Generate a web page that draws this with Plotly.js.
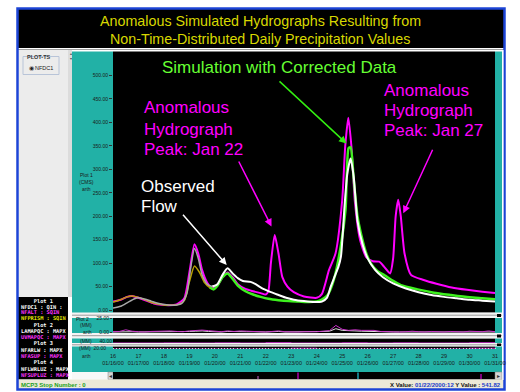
<!DOCTYPE html>
<html><head><meta charset="utf-8">
<script src="https://cdn.plot.ly/plotly-3.0.1.min.js"></script>
<style>html,body{margin:0;padding:0;background:#fff;overflow:hidden}#chart{width:520px;height:392px}</style>
</head><body><div id="chart"></div>
<script>
// ---------------- DATA ----------------
// Plot 1 : streamflow (CMS), x = day of January 2000
const obsDays = [16.0,16.3,16.6,16.85,17.0,17.2,17.5,17.8,18.1,18.4,18.7,18.9,19.05,19.2,19.35,19.5,19.7,19.9,20.1,20.3,20.5,20.7,20.9,21.1,21.4,21.6,21.9,22.2,22.5,22.8,23.1,23.5,23.9,24.2,24.4,24.55,24.7,24.85,24.95,25.1,25.2,25.33,25.45,25.6,25.8,26.0,26.3,26.6,27.0,27.5,28.0,28.5,29.0,29.5,30.0,30.5,31.0];
const obsFlow = [4,8,17,24,26,24,19,14,11,10,14,35,90,131,110,75,55,50,55,75,89,78,68,62,60,55,45,38,32,26,22,19,17,18,26,50,71,92,114,228,290,323,285,190,140,110,85,70,57,46,38,32,28,25,22,20,18];

const altDays = [16.0,16.3,16.55,16.75,17.0,17.3,17.6,17.9,18.2,18.5,18.8,19.0,19.2,19.35,19.5,19.7,19.9,20.1,20.3,20.5,20.7,20.9,21.2,21.5,21.8,22.0,22.1,22.2,22.35,22.5,22.65,22.85,23.1,23.5,24.0,24.2,24.48,24.74,25.0,25.12,25.24,25.36,25.5,25.7,25.95,26.2,26.45,26.65,26.88,27.0,27.1,27.2,27.3,27.45,27.7,28.2,28.7,29.3,29.9,30.5,31.0];
const altFlow = [18,22,28,30,26,20,14,11,10,12,25,80,140,120,85,58,46,52,70,80,70,55,45,40,36,33,40,100,160,120,70,50,38,29,26,34,85,121,234,350,410,350,230,150,112,104,103,92,78,110,200,235,200,120,75,64,56,48,43,39,36];

const prismDays = [16.0,16.3,16.55,16.75,17.0,17.3,17.6,17.9,18.2,18.5,18.8,19.0,19.2,19.4,19.6,19.8,19.95];
const prismFlow = [17,22,28,30,27,21,15,12,10,11,20,60,94,80,58,48,45];

const corrDays = [19.8,19.95,20.1,20.3,20.5,20.7,20.9,21.2,21.5,21.8,22.1,22.5,22.9,23.3,23.7,24.0,24.2,24.43,24.67,24.94,25.13,25.25,25.33,25.45,25.6,25.75,25.95,26.12,26.4,26.64,27.0,27.3,27.96,28.6,29.27,30.0,30.5,31.0];
const corrFlow = [48,44,52,70,78,66,52,40,33,28,24,21,19,18,17,18,22,32,64,135,213,345,347,280,200,160,120,100,82,75,62,53,44,37,32,27,25,23];

// Plot 2 : precipitation (MM), 6-hourly from 01/16 00z
const precipAlt = [0.5,1,4,1.5,0.5,0,1,1.5,1,2,1,0.5,2,3,3.5,2.5,1,0.5,2,1,2,1.5,1,0.3,0,1,2,0.5,0,0,0.5,0,0.5,1.5,2.5,12,5,3,4,3,2.5,3,1,0.5,0,0,0.5,1.5,0.5,0,1,0.5,0,1,0.5,0,1.5,0.5,0.5,2,0.5];
const precipLam = [0,0.5,1,0.5,0,0,0.5,0.5,0,1,0.5,0,1,1.5,2,1,0.5,0,1,0.5,1,0.5,0.5,0,0,0.5,1,0,0,0,0,0,0,1,1.5,6,3,2,2,1.5,1,1.5,0.5,0,0,0,0,1,0,0,0.5,0,0,0.5,0,0,1,0,0,1,0];
// Plot 3 and Plot 4 : daily MAP
const mapDays  = [16,17,18,19,20,21,22,23,24,25,26,27,28,29,30,31];
const map3Alt  = [0,0,2,0,3,0,6,0,0,4,0,3,0,0,5,0];
const map4Alt  = [0,0,0,0,0,0,0,0.3,0,0,0,0,0,0,0.3,0];

// x-axis tick labels
const tickDays  = [16,17,18,19,20,21,22,23,24,25,26,27,28,29,30,31];
const tickDates = ['01/16/00','01/17/00','01/18/00','01/19/00','01/20/00','01/21/00','01/22/00','01/23/00','01/24/00','01/25/00','01/26/00','01/27/00','01/28/00','01/29/00','01/30/00','01/31/00'];
const flowTicks = [0,50,100,150,200,250,300,350,400,450,500];

// ---------------- LAYOUT HELPERS ----------------
const W=520,H=392;
const X=p=>p/W, Y=p=>1-p/H;
const TEAL='#22b1a6', MAG='#ff00ff', GRN='#3df01e', YEL='#d8d800';

const precipDays = precipAlt.map((_,i)=>16+i*0.25);
const split = obsDays.findIndex(d=>d>=19.9);

const traces = [
 {x:altDays,y:altFlow,xaxis:'x',yaxis:'y',mode:'lines',line:{color:MAG,width:2,shape:'spline',smoothing:0.6}},
 {x:prismDays,y:prismFlow,xaxis:'x',yaxis:'y',mode:'lines',line:{color:'#b8a000',width:1.5,shape:'spline',smoothing:0.6}},
 {x:obsDays.slice(0,split+1),y:obsFlow.slice(0,split+1),xaxis:'x',yaxis:'y',mode:'lines',line:{color:'#a8a8a8',width:1.5,shape:'spline',smoothing:0.6}},
 {x:corrDays,y:corrFlow,xaxis:'x',yaxis:'y',mode:'lines',line:{color:GRN,width:2.5,shape:'spline',smoothing:0.6}},
 {x:obsDays.slice(split),y:obsFlow.slice(split),xaxis:'x',yaxis:'y',mode:'lines',line:{color:'#ffffff',width:2,shape:'spline',smoothing:0.6}},
 {x:precipDays,y:precipLam,xaxis:'x2',yaxis:'y2',mode:'lines',line:{color:'#dddddd',width:1}},
 {x:precipDays,y:precipAlt,xaxis:'x2',yaxis:'y2',mode:'lines',line:{color:'#cc33cc',width:1}},
 {x:mapDays,y:map3Alt,xaxis:'x3',yaxis:'y3',mode:'lines',line:{color:'#cc33cc',width:1,shape:'hv'}},
 {x:mapDays,y:map4Alt,xaxis:'x4',yaxis:'y4',mode:'lines',line:{color:'#cc33cc',width:1,shape:'hv'}}
];

const xr=[16,31], xd=[X(113),X(495)];
const baseX = {domain:xd,range:xr,showgrid:false,zeroline:false,showticklabels:false,ticks:'',fixedrange:true};
const tinyFont = {family:'Liberation Sans, Arial, sans-serif',size:5,color:'#1a1a1a'};

const layout = {
 width:W,height:H,margin:{l:0,r:0,t:0,b:0},
 paper_bgcolor:'#ffffff',plot_bgcolor:'#000000',showlegend:false,hovermode:false,
 xaxis:Object.assign({},baseX,{anchor:'y'}),
 yaxis:{domain:[Y(312.5),Y(52)],range:[-5.3,550.1],tickvals:flowTicks,tickformat:'.2f',ticks:'outside',ticklen:3,tickcolor:'#333',
        tickfont:tinyFont,showgrid:false,zeroline:false,anchor:'x'},
 xaxis2:Object.assign({},baseX,{anchor:'y2'}),
 yaxis2:{domain:[Y(333),Y(318)],range:[-1.8,25.5],tickvals:[0,25],tickformat:'.2f',ticks:'outside',ticklen:2,tickcolor:'#333',
        tickfont:tinyFont,showgrid:false,zeroline:false,anchor:'x2'},
 xaxis3:Object.assign({},baseX,{anchor:'y3'}),
 yaxis3:{domain:[Y(343),Y(338.5)],range:[0,80],tickvals:[40],tickformat:'.2f',ticks:'',
        tickfont:tinyFont,showgrid:false,zeroline:false,anchor:'x3'},
 xaxis4:Object.assign({},baseX,{anchor:'y4',showticklabels:true,tickvals:tickDays,tickangle:0,
        ticktext:tickDays.map((d,i)=>d+'<br>'+tickDates[i]),tickfont:{family:'Liberation Sans, Arial, sans-serif',size:5.5,color:'#1a1a1a'},
        ticks:'outside',ticklen:1,tickcolor:TEAL,
        minor:{ticks:'inside',dtick:0.125,ticklen:1.5,tickcolor:'#d8d8d8',showgrid:false}}),
 yaxis4:{domain:[Y(349),Y(346.5)],range:[0,1],showticklabels:false,showgrid:false,zeroline:false,anchor:'x4',ticks:''},
 shapes:[],annotations:[]
};

const S=layout.shapes, A=layout.annotations;
function rect(x0,y0,x1,y1,fill,line,layer){S.push({type:'rect',xref:'paper',yref:'paper',x0:X(x0),x1:X(x1),y0:Y(y1),y1:Y(y0),
  fillcolor:fill,line:line||{width:0},layer:layer||'below'});}
function hline(x0,x1,y,c,w){S.push({type:'line',xref:'paper',yref:'paper',x0:X(x0),x1:X(x1),y0:Y(y),y1:Y(y),line:{color:c,width:w||1},layer:'below'});}
function vline(x,y0,y1,c,w,layer){S.push({type:'line',xref:'paper',yref:'paper',x0:X(x),x1:X(x),y0:Y(y0),y1:Y(y1),line:{color:c,width:w||1},layer:layer||'below'});}
function txt(t,x,y,size,color,opt){A.push(Object.assign({text:t,xref:'paper',yref:'paper',x:X(x),y:Y(y),showarrow:false,
  xanchor:'left',yanchor:'middle',font:{family:'Liberation Sans, Arial, sans-serif',size:size,color:color}},opt||{}));}
function arrow(tx,ty,hx,hy,color){A.push({text:'',xref:'paper',yref:'paper',x:X(hx),y:Y(hy),ax:tx-hx,ay:ty-hy,showarrow:true,
  arrowhead:2,arrowsize:1,arrowwidth:1.5,arrowcolor:color,standoff:0});}

// window frame
rect(18,9,504,48,'#000000');
hline(18,504,49.5,'#a0a0a0',1);
// left panel
rect(19,50,68,297,'#ececec');
rect(23,56.5,59,74.5,'rgba(0,0,0,0)',{color:'#b8c4d8',width:1});
rect(68,50,72,297,'#dcdcdc');
// teal areas
rect(72,51.5,113,349,TEAL);
rect(495,51.5,502,349,TEAL);
rect(72,349,502,372,TEAL);
// black plot areas
rect(113,51.5,495,312.5,'#000000');
rect(113,318,495,333,'#000000');
rect(113,338.5,495,343,'#000000');
rect(113,346.5,495,349,'#000000');
// separators
rect(72,312.5,502,318,'#f4f4f4'); hline(72,502,315.2,'#9a9a9a',1);
rect(72,333,502,338.5,'#f4f4f4'); hline(72,502,335.7,'#9a9a9a',1);
rect(72,343,502,346.5,'#f4f4f4'); hline(72,502,344.8,'#9a9a9a',1);
rect(497,314,501,317,'#000'); rect(497,334.5,501,337.5,'#000'); rect(497,343.5,501,346,'#000');
// scrollbar
rect(72,372,108,379.5,'#f8f8f8');
rect(108,372,113,379.5,'#d4d4d4',{color:'#808080',width:0.5});
rect(113,372,495,379.5,'#000000');
rect(495,372,502,379.5,'#d4d4d4',{color:'#808080',width:0.5});
vline(298,372.5,379,MAG,1); vline(358,372.5,379,'#22ccdd',1.2); vline(481,374,379,MAG,1); vline(258,376,379,'#cc66cc',1);
// legend box & status bar
rect(18,297,68,379.5,'#000000');
rect(18,379.5,504,389,'#ece9d8');
// blue frame
rect(17.5,8.5,504.5,389.5,'rgba(0,0,0,0)',{color:'#1c44d6',width:2.5});
vline(503,50,380,'#ffffff',1);

// title
txt('Anomalous Simulated Hydrographs Resulting from',260,21.5,14.3,YEL,{xanchor:'center'});
txt('Non-Time-Distributed Daily Precipitation Values',260,39,14.3,YEL,{xanchor:'center'});

// left panel texts
txt('<b>PLOT-TS</b>',25,57.3,5.5,'#333');
txt('◉',26.5,68.3,6,'#222');
txt('NFDC1',33,68.3,5.5,'#222');
txt('▴',67.5,53.5,4,'#555'); txt('▾',67.5,58.5,4,'#555');

// axis side labels
const lf={xanchor:'center'};
txt('Plot 1',86,175,5,'#1a1a1a',lf); txt('(CMS)',86,182,5,'#1a1a1a',lf); txt('arth',86,189,5,'#1a1a1a',lf);
txt('Plot 2',82,318.5,5,'#1a1a1a',lf); txt('(MM)',86,325,5,'#1a1a1a',lf); txt('arth',87,332,5,'#1a1a1a',lf);
txt('(MM)',86,341,5,'#1a1a1a',lf);
txt('(MM)  20.00',92,348,5,'#1a1a1a',lf); txt('arth',86,355.5,5,'#1a1a1a',lf);
txt('◂',110.5,375.8,6,'#333',{xanchor:'center'}); txt('▸',498.5,375.8,6,'#333',{xanchor:'center'});

// legend texts
const mono='DejaVu Sans Mono, monospace';
const leg=[['    Plot 1','#fff',301],['NFDC1 : QIN :','#fff',306.5],['NFALT : SQIN','#ff33ff',312],['NFPRISM : SQIN','#e6e600',318],
 ['    Plot 2','#fff',324.5],['LAMAPQC : MAPX','#fff',330.5],['UVMAPQC : MAPX','#ff33ff',337],['    Plot 3','#fff',343],
 ['NFARLW : MAPX','#fff',349.5],['NFASUP : MAPX','#ff33ff',355.5],['    Plot 4','#fff',362],['NFLWRLUZ : MAPX','#fff',368.5],['NFSUPLUZ : MAPX','#ff33ff',375]];
leg.forEach(l=>A.push({text:'<b>'+l[0]+'</b>',xref:'paper',yref:'paper',x:X(19),y:Y(l[2]),showarrow:false,xanchor:'left',yanchor:'middle',
  font:{family:mono,size:5.3,color:l[1]}}));

// status bar
txt('<b>MCP3 Stop Number : 0</b>',19,384.5,6,'#22a022');
txt('<b>X Value: <span style="color:#1a3cc8">01/22/2000:12</span> Y Value : <span style="color:#1a3cc8">541.82</span></b>',503,384.5,6,'#111',{xanchor:'right'});

// chart annotations
txt('Simulation with Corrected Data',160,67.5,17,'#66ff33');
arrow(278,80,346.5,143.5,'#33ee11');
txt('Anomalous',141.5,108,17,MAG); txt('Hydrograph',141.5,129,17,MAG); txt('Peak: Jan 22',141.5,149.5,17,MAG);
arrow(238,160,271.5,226.5,MAG);
txt('Anomalous',381.5,90.5,17,MAG); txt('Hydrograph',381.5,110.7,17,MAG); txt('Peak: Jan 27',381.5,130.7,17,MAG);
arrow(433.3,148.3,403.3,213.3,MAG);
txt('Observed',138.5,186,17,'#ffffff'); txt('Flow',138.5,206.5,17,'#ffffff');
arrow(181.7,213.3,226.7,265,'#ffffff');

Plotly.newPlot('chart',traces,layout,{staticPlot:true,displayModeBar:false});
</script></body></html>
